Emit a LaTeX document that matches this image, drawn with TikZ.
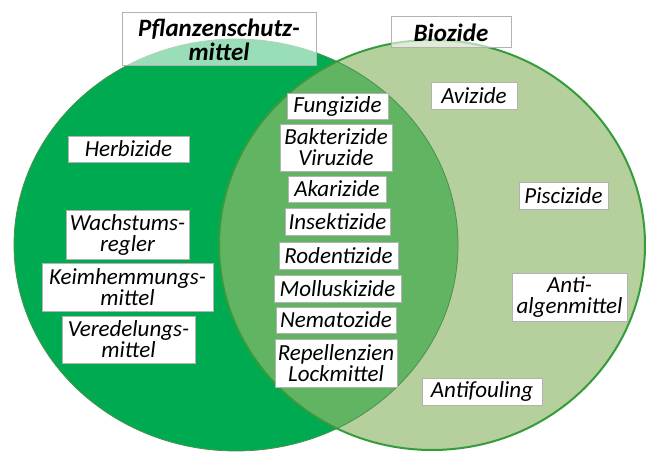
\documentclass[tikz,border=0pt]{standalone}
\usepackage{fontspec}
\setmainfont{Carlito}
\usetikzlibrary{positioning}
\definecolor{psmgreen}{RGB}{0,170,80}
\definecolor{biogreen}{RGB}{181,208,156}
\definecolor{mixgreen}{RGB}{96,180,98}
\definecolor{rimgreen}{RGB}{52,156,60}
\definecolor{boxgray}{RGB}{178,178,178}
\tikzset{
    itembox/.style={
        draw=boxgray,
        fill=white,
        line width=0.8pt,
        inner sep=0pt,
        align=center,
        font=\fontsize{23}{21}\selectfont\itshape
    },
    titlebox/.style={
        draw=boxgray,
        fill=white,
        fill opacity=0.6,
        text opacity=1,
        line width=1pt,
        inner sep=0pt,
        align=center,
        font=\fontsize{25}{24}\selectfont\bfseries\itshape
    }
}

\begin{document}
\begin{tikzpicture}[x=1pt,y=-1pt]
      \useasboundingbox (0,0) rectangle (646,452);

      % the two sets and their overlap
      \fill[psmgreen] (236,245) ellipse [x radius=222pt, y radius=206pt];
      \fill[biogreen] (432,245) ellipse [x radius=213pt, y radius=205pt];
      \begin{scope}
        \clip (236,245) ellipse [x radius=222pt, y radius=206pt];
        \fill[mixgreen] (432,245) ellipse [x radius=213pt, y radius=205pt];
      \end{scope}
      \draw[mixgreen!80!black, line width=0.8pt] (236,245) ellipse [x radius=222pt, y radius=206pt];
      \draw[rimgreen, line width=2pt] (432,245) ellipse [x radius=213pt, y radius=205pt];

      % titles
      \node[titlebox, minimum width=194pt, minimum height=53pt] (pflanz) at (219,39.5) {Pflanzenschutz-\\mittel};
      \node[titlebox, minimum width=120pt, minimum height=31pt] (bio) at (451,32.5) {Biozide};

      % Pflanzenschutzmittel only
      \node[itembox, minimum width=121pt, minimum height=26pt] (herb) at (128.5,149) {Herbizide};
      \node[itembox, minimum width=123pt, minimum height=49pt] (wachs) at (127.5,234.5) {Wachstums-\\regler};
      \node[itembox, minimum width=171pt, minimum height=48pt] (keim) at (127.5,287) {Keimhemmungs-\\mittel};
      \node[itembox, minimum width=133pt, minimum height=47pt] (vered) at (128.5,339.5) {Veredelungs-\\mittel};

      % both
      \node[itembox, minimum width=101pt, minimum height=26pt] (fungi) at (337.5,106) {Fungizide};
      \node[itembox, minimum width=112pt, minimum height=47pt] (bakt) at (336,147.5) {Bakterizide\\Viruzide};
      \node[itembox, minimum width=98pt, minimum height=26pt] (akar) at (337,189) {Akarizide};
      \node[itembox, minimum width=105pt, minimum height=27pt] (insekt) at (337.5,221.5) {Insektizide};
      \node[itembox, minimum width=119pt, minimum height=27pt] (roden) at (338.5,255.5) {Rodentizide};
      \node[itembox, minimum width=127pt, minimum height=27pt] (mollus) at (337.5,288.5) {Molluskizide};
      \node[itembox, minimum width=120pt, minimum height=26pt] (nemat) at (336,320) {Nematozide};
      \node[itembox, minimum width=122pt, minimum height=48pt] (repell) at (336,363) {Repellenzien\\Lockmittel};

      % Biozide only
      \node[itembox, minimum width=86pt, minimum height=27pt] (avi) at (474,95.5) {Avizide};
      \node[itembox, minimum width=89pt, minimum height=27pt] (pisci) at (563.5,195.5) {Piscizide};
      \node[itembox, minimum width=115pt, minimum height=48pt] (algen) at (569.5,297) {Anti-\\algenmittel};
      \node[itembox, minimum width=120pt, minimum height=27pt] (foul) at (482,391.5) {Antifouling};

    \end{tikzpicture}
\end{document}
